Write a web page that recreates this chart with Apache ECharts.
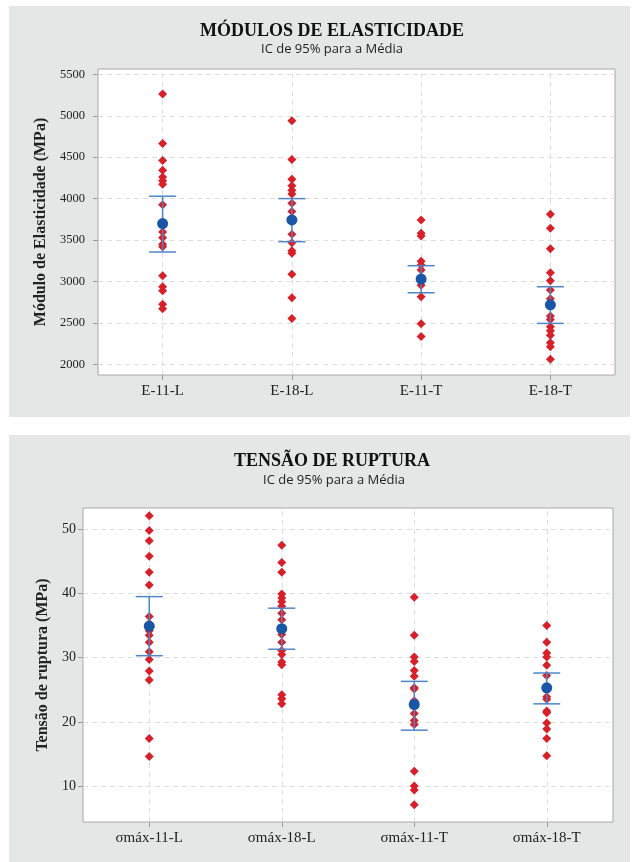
<!DOCTYPE html>
<html>
<head>
<meta charset="utf-8">
<script src="https://cdn.jsdelivr.net/npm/echarts@6/dist/echarts.min.js"></script>
<style>
html,body{margin:0;padding:0;background:#fff;}
#c{width:639px;height:862px;}
</style>
</head>
<body>
<div id="c"></div>
<script>
// ---- Chart 1: Módulos de elasticidade ----
const catsE = ['E-11-L', 'E-18-L', 'E-11-T', 'E-18-T'];
const E_11_L = [5263, 4666, 4460, 4343, 4260, 4215, 4174, 3927, 3700, 3597, 3528, 3450, 3420, 3069, 2936, 2887, 2723, 2670];
const E_18_L = [4940, 4472, 4235, 4154, 4102, 4057, 3944, 3843, 3745, 3569, 3468, 3371, 3340, 3086, 2803, 2553];
const E_11_T = [3742, 3581, 3549, 3243, 3198, 3138, 3030, 2996, 2953, 2815, 2488, 2335];
const E_18_T = [3811, 3642, 3395, 3105, 3008, 2896, 2790, 2718, 2581, 2541, 2452, 2403, 2351, 2258, 2210, 2061];
const meanE = [3698, 3742, 3029, 2718];
const ciLowE = [3355, 3480, 2863, 2493];
const ciHighE = [4029, 4000, 3190, 2936];
const yTicksE = [2000, 2500, 3000, 3500, 4000, 4500, 5000, 5500];

// ---- Chart 2: Tensão de ruptura ----
const catsS = ['σmáx-11-L', 'σmáx-18-L', 'σmáx-11-T', 'σmáx-18-T'];
const S_11_L = [52.1, 49.8, 48.2, 45.8, 43.3, 41.3, 36.4, 35.3, 34.2, 33.5, 32.4, 30.9, 29.7, 27.9, 26.5, 17.4, 14.6];
const S_18_L = [47.5, 44.8, 43.3, 39.9, 39.3, 38.7, 38.0, 36.9, 35.9, 34.5, 33.6, 32.4, 31.1, 30.5, 29.3, 28.9, 24.2, 23.6, 22.8];
const S_11_T = [39.4, 33.5, 30.1, 29.4, 28.0, 27.1, 25.3, 25.1, 23.3, 22.7, 21.3, 20.2, 19.6, 12.3, 10.0, 9.4, 7.1];
const S_18_T = [35.0, 32.4, 30.7, 30.1, 28.8, 27.2, 25.3, 23.9, 23.5, 21.7, 21.4, 19.8, 18.9, 17.4, 14.7];
const meanS = [34.9, 34.5, 22.7, 25.3];
const ciLowS = [30.3, 31.3, 18.7, 22.8];
const ciHighS = [39.5, 37.7, 26.3, 27.6];
const yTicksS = [10, 20, 30, 40, 50];

const RED = '#d6202a';
const BLUE = '#1a56a6';
const CI = '#4f86c6';
const GRIDC = '#dedede';
const SERIF = '"Liberation Serif", "Times New Roman", serif';
const SANS = '"Open Sans", "Noto Sans", sans-serif';

function pts(cat, arr) { return arr.map(v => [cat, v]); }

function ciRender(params, api) {
  const x = api.value(0);
  const lo = api.coord([x, api.value(1)]);
  const hi = api.coord([x, api.value(2)]);
  const hw = 13.5;
  const st = { stroke: CI, lineWidth: 1.5 };
  return {
    type: 'group',
    children: [
      { type: 'line', shape: { x1: lo[0], y1: lo[1], x2: hi[0], y2: hi[1] }, style: st },
      { type: 'line', shape: { x1: lo[0] - hw, y1: lo[1], x2: lo[0] + hw, y2: lo[1] }, style: st },
      { type: 'line', shape: { x1: hi[0] - hw, y1: hi[1], x2: hi[0] + hw, y2: hi[1] }, style: st }
    ]
  };
}

function xAxisDef(cats, gi) {
  return {
    type: 'category', gridIndex: gi, data: cats,
    axisLine: { show: false },
    axisTick: { show: true, alignWithLabel: true, length: 5, lineStyle: { color: '#9a9a9a' } },
    axisLabel: { color: '#222', fontFamily: SERIF, fontSize: 15, margin: 9 },
    splitLine: { show: false }
  };
}
function yAxisDef(gi, min, max, ticks, name, gap, fs, margin) {
  return {
    type: 'value', gridIndex: gi, min: min, max: max,
    name: name, nameLocation: 'middle', nameGap: gap,
    nameTextStyle: { fontFamily: SERIF, fontWeight: 'bold', fontSize: 16, color: '#222' },
    axisLine: { show: false },
    axisTick: { show: true, length: 5, customValues: ticks, lineStyle: { color: '#9a9a9a' } },
    axisLabel: { color: '#222', fontFamily: SERIF, fontSize: fs, margin: margin, customValues: ticks,
      formatter: v => String(v) },
    splitLine: { show: true, lineStyle: { color: GRIDC, type: [5, 4], width: 1 } }
  };
}

function seriesFor(gi, cats, groups, mean, lo, hi) {
  const s = [];
  s.push({
    type: 'scatter', xAxisIndex: gi, yAxisIndex: gi, data: [], silent: true, z: 1,
    markLine: {
      z: 1, silent: true, symbol: ['none', 'none'], label: { show: false },
      lineStyle: { color: GRIDC, type: [5, 4], width: 1 },
      emphasis: { disabled: true },
      data: cats.map(c => ({ xAxis: c }))
    }
  });
  groups.forEach((arr, i) => {
    s.push({
      type: 'scatter', xAxisIndex: gi, yAxisIndex: gi, data: pts(i, arr),
      symbol: 'diamond', symbolSize: 9,
      itemStyle: { color: RED, opacity: 1, borderWidth: 0 }, z: 3, silent: true
    });
  });
  s.push({
    type: 'custom', xAxisIndex: gi, yAxisIndex: gi, renderItem: ciRender, z: 4, silent: true,
    data: cats.map((c, i) => [i, lo[i], hi[i]])
  });
  s.push({
    type: 'scatter', xAxisIndex: gi, yAxisIndex: gi, data: mean.map((v, i) => [i, v]),
    symbol: 'circle', symbolSize: 11, itemStyle: { color: BLUE, opacity: 1, borderWidth: 0 }, z: 5, silent: true
  });
  return s;
}

const chart = echarts.init(document.getElementById('c'), null, { renderer: 'canvas' });
chart.setOption({
  backgroundColor: '#ffffff',
  animation: false,
  graphic: [
    { type: 'rect', shape: { x: 9, y: 6, width: 621, height: 411 }, style: { fill: '#e5e6e6' }, z: -10 },
    { type: 'rect', shape: { x: 9, y: 435, width: 621, height: 427 }, style: { fill: '#e5e6e6' }, z: -10 }
  ],
  title: [
    { text: 'MÓDULOS DE ELASTICIDADE', left: 327, top: 17, textAlign: 'center',
      textStyle: { fontFamily: SERIF, fontWeight: 'bold', fontSize: 18, color: '#111' } },
    { text: 'IC de 95% para a Média', left: 327, top: 38, textAlign: 'center',
      textStyle: { fontFamily: SANS, fontWeight: 'normal', fontSize: 13, color: '#222' } },
    { text: 'TENSÃO DE RUPTURA', left: 327, top: 447, textAlign: 'center',
      textStyle: { fontFamily: SERIF, fontWeight: 'bold', fontSize: 18, color: '#111' } },
    { text: 'IC de 95% para a Média', left: 329, top: 469, textAlign: 'center',
      textStyle: { fontFamily: SANS, fontWeight: 'normal', fontSize: 13, color: '#222' } }
  ],
  grid: [
    { left: 98, top: 69, width: 517, height: 306, show: true, backgroundColor: '#fff', borderColor: '#a8a8a8', borderWidth: 1 },
    { left: 83, top: 508, width: 530, height: 314, show: true, backgroundColor: '#fff', borderColor: '#a8a8a8', borderWidth: 1 }
  ],
  xAxis: [xAxisDef(catsE, 0), xAxisDef(catsS, 1)],
  yAxis: [
    yAxisDef(0, 1870, 5565, yTicksE, 'Módulo de Elasticidade (MPa)', 47, 12.5, 13),
    yAxisDef(1, 4.4, 53.3, yTicksS, 'Tensão de ruptura (MPa)', 32, 14, 7)
  ],
  series: [].concat(
    seriesFor(0, catsE, [E_11_L, E_18_L, E_11_T, E_18_T], meanE, ciLowE, ciHighE),
    seriesFor(1, catsS, [S_11_L, S_18_L, S_11_T, S_18_T], meanS, ciLowS, ciHighS)
  )
});
</script>
</body>
</html>
